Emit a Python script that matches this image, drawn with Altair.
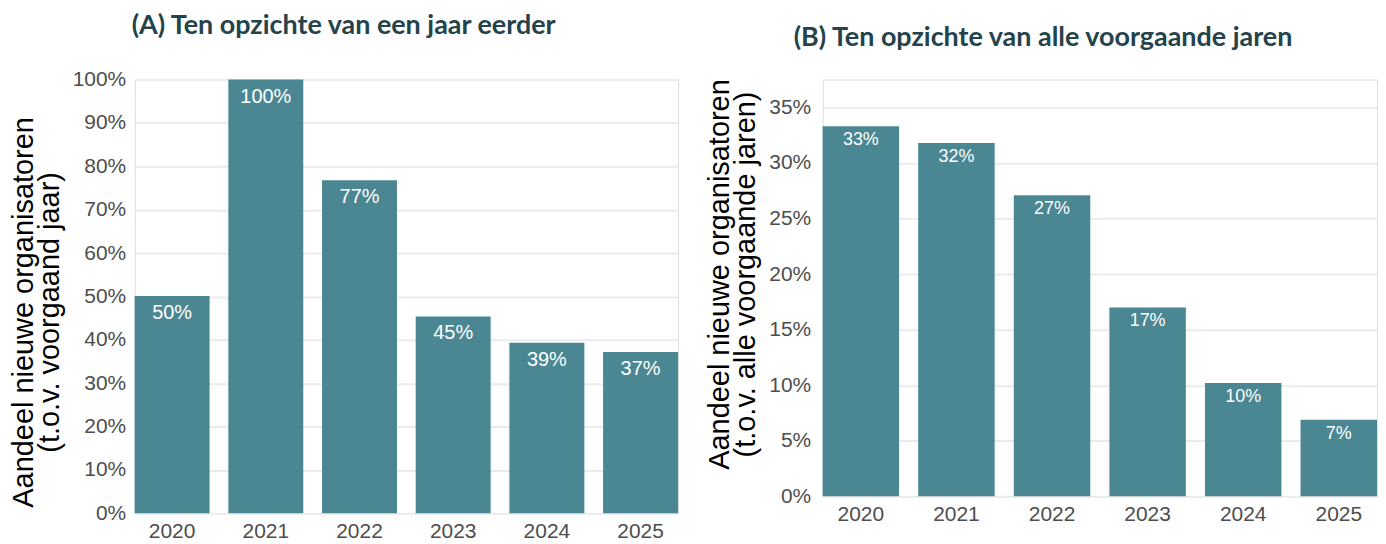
import altair as alt
import pandas as pd

# ---- data ----
years = ["2020", "2021", "2022", "2023", "2024", "2025"]
share_prev_year = [50.1, 100.0, 76.8, 45.4, 39.3, 37.2]      # % t.o.v. voorgaand jaar
labels_prev_year = ["50%", "100%", "77%", "45%", "39%", "37%"]
share_all_prev = [33.3, 31.8, 27.1, 17.0, 10.2, 6.9]          # % t.o.v. alle voorgaande jaren
labels_all_prev = ["33%", "32%", "27%", "17%", "10%", "7%"]
ticks_a = [0, 10, 20, 30, 40, 50, 60, 70, 80, 90, 100]
ticks_b = [0, 5, 10, 15, 20, 25, 30, 35]

title_a = "(A) Ten opzichte van een jaar eerder"
title_b = "(B) Ten opzichte van alle voorgaande jaren"
ytitle_a = ["Aandeel nieuwe organisatoren", "(t.o.v. voorgaand jaar)"]
ytitle_b = ["Aandeel nieuwe organisatoren", "(t.o.v. alle voorgaande jaren)"]

BAR = "#4b8793"
TITLE_COLOR = "#24434b"
FONT = "Liberation Sans"

df_a = pd.DataFrame({"jaar": years, "waarde": share_prev_year, "label": labels_prev_year})
df_b = pd.DataFrame({"jaar": years, "waarde": share_all_prev, "label": labels_all_prev})


def x_enc():
    return alt.X(
        "jaar:N",
        sort=years,
        scale=alt.Scale(paddingInner=0.2, paddingOuter=0),
        axis=alt.Axis(
            title=None, labelAngle=0, ticks=False, domain=False, grid=False,
            labelFont=FONT, labelFontSize=21, labelColor="#4d4d4d", labelPadding=7,
        ),
    )


def panel(df, domain, ticks, ytitle, title_y, label_pad, label_size, label_dy,
          width, height, title, title_dx, title_offset):
    y = alt.Y(
        "waarde:Q",
        scale=alt.Scale(domain=domain, nice=False, zero=True),
        axis=alt.Axis(
            values=ticks, labelExpr="datum.value + '%'", title=ytitle,
            titleFont=FONT, titleFontSize=29, titleFontWeight="normal", titleColor="black",
            titleLineHeight=26, titleY=title_y, titlePadding=8,
            labelFont=FONT, labelFontSize=21, labelColor="#4d4d4d", labelPadding=label_pad,
            ticks=False, domain=False, grid=True, gridColor="#ebebeb", gridWidth=2,
        ),
    )
    base = alt.Chart(df)
    bars = base.mark_bar(color=BAR).encode(x=x_enc(), y=y)
    text = base.mark_text(
        color="white", font=FONT, fontSize=label_size, baseline="middle", dy=label_dy
    ).encode(x=alt.X("jaar:N", sort=years), y=alt.Y("waarde:Q"), text="label:N")
    return alt.layer(bars, text).properties(
        width=width,
        height=height,
        title=alt.TitleParams(
            text=title, anchor="start", frame="group", font="Lato", fontSize=27,
            fontWeight="bold", color=TITLE_COLOR, dx=title_dx, offset=title_offset,
            baseline="alphabetic",
        ),
    )


chart_a = panel(df_a, [0, 100], ticks_a, ytitle_a, 233, 9, 20, 17, 545, 435,
                title_a, -3, 8)
chart_b = panel(df_b, [0, 37.5], ticks_b, ytitle_b, 195, 12, 18, 14, 556, 418,
                title_b, -29, 6)

chart = (
    alt.hconcat(chart_a, chart_b, spacing=26)
    .properties(padding={"left": 0, "top": 2, "right": 0, "bottom": 0})
    .configure_view(stroke=None)
    .configure(background="white")
)

chart.save("out.html", embed_options={"renderer": "svg", "actions": False})
